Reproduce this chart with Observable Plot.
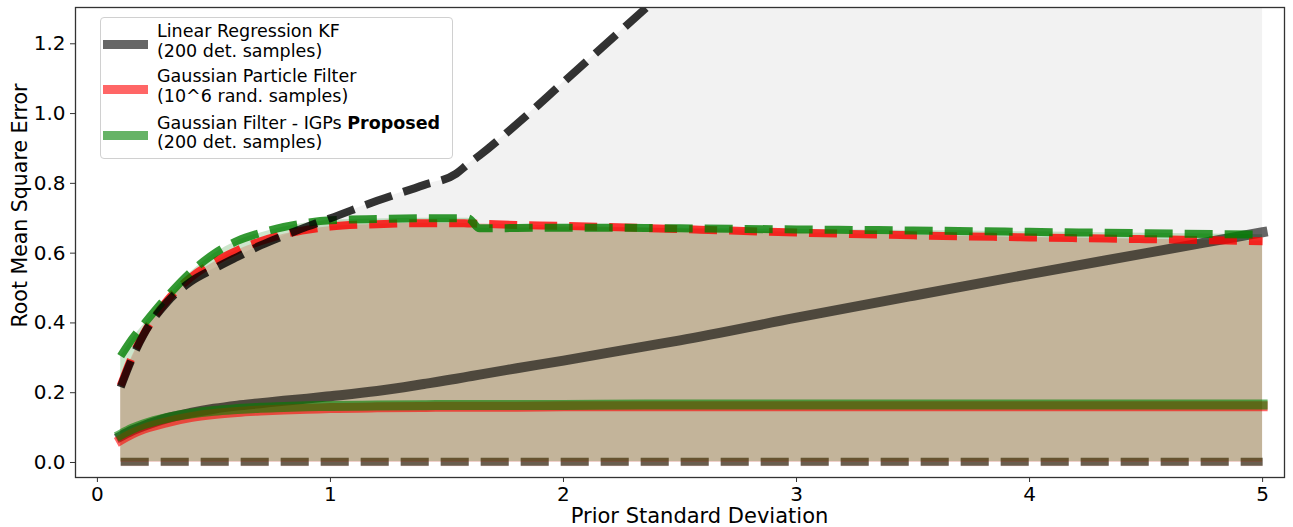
<!DOCTYPE html>
<html><head><meta charset="utf-8">
<script src="https://cdn.jsdelivr.net/npm/d3@7"></script>
<script src="https://cdn.jsdelivr.net/npm/@observablehq/plot@0.6"></script>
<style>
body{margin:0;background:#fff;}
#wrap{position:relative;width:1293px;height:527px;font-family:"DejaVu Sans",sans-serif;}
#legend{position:absolute;left:100px;top:17px;width:353px;height:142px;background:rgba(255,255,255,0.8);border:1px solid #d0d0d0;border-radius:4px;box-sizing:border-box;}
.patch{position:absolute;left:2px;width:45px;height:9px;}
.label{position:absolute;left:56px;font-size:17.5px;line-height:19.5px;color:#000;white-space:nowrap;}
</style></head><body><div id="wrap"></div>
<script>
// ---- data ----
const xs = [0.1,0.15,0.2,0.3,0.4,0.5,0.6,0.7,0.8,0.9,1.0,1.2,1.4,1.54,1.59,1.64,1.8,2.0,2.35,2.5,3.0,3.5,4.0,4.5,5.0];

const lrUpper = [0.216,0.30,0.368,0.46,0.518,0.555,0.589,0.622,0.65,0.676,0.70,0.75,0.795,0.828,0.855,0.88,0.97,1.09,1.30,1.39,1.69,1.99,2.29,2.59,2.89];
const lrMean  = [0.075,0.092,0.105,0.127,0.142,0.154,0.163,0.170,0.177,0.183,0.190,0.205,0.225,0.240,0.246,0.252,0.270,0.292,0.333,0.350,0.415,0.478,0.540,0.600,0.660];
const lrLower = [0.002,0.002,0.002,0.002,0.002,0.002,0.002,0.002,0.002,0.002,0.002,0.002,0.002,0.002,0.002,0.002,0.002,0.002,0.002,0.002,0.002,0.002,0.002,0.002,0.002];

const gpfUpper = [0.22,0.305,0.37,0.465,0.53,0.574,0.608,0.634,0.654,0.667,0.676,0.683,0.686,0.686,0.685,0.684,0.681,0.678,0.672,0.669,0.659,0.651,0.645,0.640,0.634];
const gpfMean  = [0.065,0.083,0.097,0.116,0.130,0.139,0.145,0.149,0.152,0.154,0.156,0.158,0.159,0.160,0.160,0.160,0.160,0.161,0.161,0.161,0.161,0.161,0.161,0.161,0.161];
const gpfLower = [0.001,0.001,0.001,0.001,0.001,0.001,0.001,0.001,0.001,0.001,0.001,0.001,0.001,0.001,0.001,0.001,0.001,0.001,0.001,0.001,0.001,0.001,0.001,0.001,0.001];

const igpUpper = [0.305,0.355,0.397,0.476,0.545,0.598,0.635,0.658,0.675,0.687,0.694,0.698,0.700,0.700,0.700,0.671,0.672,0.673,0.672,0.671,0.668,0.665,0.661,0.657,0.653];
const igpMean  = [0.080,0.097,0.110,0.128,0.140,0.148,0.153,0.157,0.159,0.161,0.162,0.163,0.164,0.165,0.165,0.165,0.165,0.165,0.166,0.166,0.166,0.166,0.166,0.166,0.166];
const igpLower = [0.002,0.002,0.002,0.002,0.002,0.002,0.002,0.002,0.002,0.002,0.002,0.002,0.002,0.002,0.002,0.002,0.002,0.002,0.002,0.002,0.002,0.002,0.002,0.002,0.002];

const xTicks = [0,1,2,3,4,5];
const yTicks = [0.0,0.2,0.4,0.6,0.8,1.0,1.2];
const xLabel = "Prior Standard Deviation";
const yLabel = "Root Mean Square Error";
const legendEntries = [
  {line1:"Linear Regression KF", bold:"", line2:"(200 det. samples)", color:"rgba(0,0,0,0.6)"},
  {line1:"Gaussian Particle Filter", bold:"", line2:"(10^6 rand. samples)", color:"rgba(255,0,0,0.6)"},
  {line1:"Gaussian Filter - IGPs ", bold:"Proposed", line2:"(200 det. samples)", color:"rgba(0,128,0,0.6)"}
];

const rows = xs.map((x,i)=>({x,
  lrU:lrUpper[i], lrM:lrMean[i], lrL:lrLower[i],
  gU:gpfUpper[i], gM:gpfMean[i], gL:gpfLower[i],
  iU:igpUpper[i], iM:igpMean[i], iL:igpLower[i]}));

const curve = "monotone-x";
const dash = "28,12";
const dashed = (y, stroke, op) => Plot.line(rows,{x:"x", y, stroke, strokeOpacity:op, strokeWidth:8, strokeDasharray:dash, strokeLinecap:"butt", curve, clip:true});
const solid = (y, stroke) => Plot.line(rows,{x:"x", y, stroke, strokeOpacity:0.6, strokeWidth:10, strokeLinecap:"square", curve, clip:true});

const chart = Plot.plot({
  width:1293, height:527,
  marginLeft:75, marginRight:9, marginTop:7, marginBottom:50,
  style:{fontFamily:"DejaVu Sans", fontSize:"20px", color:"#000", background:"transparent"},
  x:{domain:[-0.094,5.094]},
  y:{domain:[-0.043,1.304]},
  marks:[
    dashed("lrL","black",0.6),
    dashed("gL","red",0.12),
    dashed("iL","green",0.12),
    Plot.areaY(rows,{x:"x", y1:"lrL", y2:"lrU", fill:"black", fillOpacity:0.05, curve, clip:true}),
    Plot.areaY(rows,{x:"x", y1:"gL", y2:"gU", fill:"red", fillOpacity:0.2, curve, clip:true}),
    Plot.areaY(rows,{x:"x", y1:"iL", y2:"iU", fill:"green", fillOpacity:0.2, curve, clip:true}),
    solid("lrM","black"),
    solid("gM","red"),
    solid("iM","green"),
    dashed("gU","red",0.8),
    dashed("iU","green",0.8),
    dashed("lrU","black",0.8),
    Plot.frame({stroke:"#333", strokeWidth:1.3}),
    Plot.axisX({ticks:xTicks, tickSize:5, tickPadding:4, tickFormat:d=>String(d), label:null, stroke:"#333", fontSize:20}),
    Plot.axisY({ticks:yTicks, tickSize:5, tickPadding:5, tickFormat:d=>d.toFixed(1), label:null, stroke:"#333", fontSize:20}),
    Plot.text([xLabel],{text:d=>d, frameAnchor:"bottom", textAnchor:"middle", lineAnchor:"bottom", dy:45, dx:19.5, fontSize:21, fill:"#000"}),
    Plot.text([yLabel],{text:d=>d, frameAnchor:"left", textAnchor:"middle", lineAnchor:"bottom", rotate:-90, dx:-49, dy:-37, fontSize:20.5, fill:"#000"})
  ]
});

const wrap = document.getElementById("wrap");
wrap.appendChild(chart);

const leg = document.createElement("div");
leg.id = "legend";
const tops = [4, 49, 95.5];
legendEntries.forEach((e,i)=>{
  const p = document.createElement("div");
  p.className = "patch";
  p.style.top = (tops[i] + 22 - 4.5) + "px";
  p.style.background = e.color;
  leg.appendChild(p);
  const t = document.createElement("div");
  t.className = "label";
  t.style.top = tops[i] + "px";
  const l1 = document.createElement("div");
  l1.textContent = e.line1;
  if (e.bold) { const b = document.createElement("b"); b.textContent = e.bold; l1.appendChild(b); }
  const l2 = document.createElement("div");
  l2.textContent = e.line2;
  t.appendChild(l1); t.appendChild(l2);
  leg.appendChild(t);
});
wrap.appendChild(leg);
</script>
</body></html>
